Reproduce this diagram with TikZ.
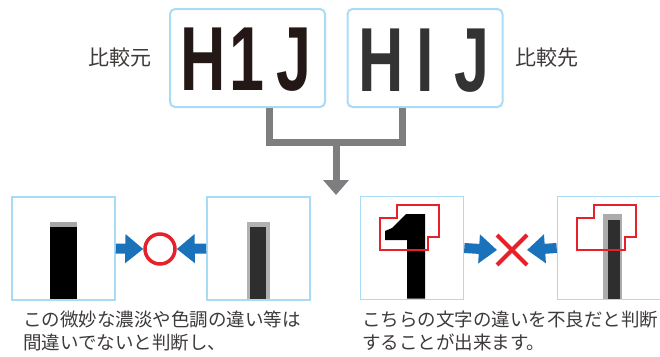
\documentclass[tikz,border=0pt]{standalone}
\usepackage{fontspec}
\newfontfamily\jpfont{Noto Sans CJK JP}
\newfontfamily\platefont{Liberation Sans}
\usetikzlibrary{positioning, arrows.meta}

\definecolor{framecol}{HTML}{A9DCF4}
\definecolor{linkgray}{HTML}{7E7E81}
\definecolor{feedblue}{HTML}{1A72BA}
\definecolor{markred}{HTML}{E6212A}
\definecolor{textgray}{HTML}{3E3A39}
\definecolor{inkdark}{HTML}{231815}
\definecolor{inksoft}{HTML}{333333}

\newcommand{\plate}[1]{\scalebox{0.69}[1]{#1}}

\begin{document}
\begin{tikzpicture}[
    x=1pt, y=-1pt,
    topbox/.style={draw=framecol, line width=2pt, rounded corners=5pt, minimum width=155pt, minimum height=98pt},
    zoombox/.style={draw=framecol, line width=1.6pt, minimum width=103pt, minimum height=103pt},
    glyph/.style={inner sep=0pt, anchor=base, font=\platefont\bfseries\fontsize{91}{91}\selectfont},
    sidelabel/.style={inner sep=0pt, text=textgray, font=\jpfont\fontsize{21}{25}\selectfont},
    caption/.style={inner sep=0pt, anchor=north west, align=left, text=textgray, font=\jpfont\fontsize{18.5}{23}\selectfont},
    link/.style={draw=linkgray, line width=7pt},
    feed/.style={draw=feedblue, line width=10pt, -{Triangle[width=28pt, length=18pt]}},
    zone/.style={draw=markred, line width=1.6pt}
]
\useasboundingbox (0,0) rectangle (660,356);

% compared plates
\node[topbox] (orig) at (247.5,58) {};
\node[topbox] (dest) at (425,58) {};
\node[sidelabel, left=17pt of orig] (origlabel) {比較元};
\node[sidelabel, right=12pt of dest] (destlabel) {比較先};

\foreach \ch/\x [count=\i] in {H/203,1/247,J/294}
    \node[glyph, text=inkdark] (a\i) at (\x,90) {\plate{\ch}};
\foreach \ch/\x [count=\i] in {H/381,I/425,J/472}
    \node[glyph, text=inksoft] (b\i) at (\x,91) {\plate{\ch}};

% merge and arrow down
\coordinate (join) at (336,142);
\coordinate (fork) at (336,195);
\draw[link] ([xshift=22pt]orig.south) |- (join) -| ([xshift=-23pt]dest.south);
\draw[link, -{Triangle[width=25pt, length=15pt]}] (join) -- (fork);

% enlarged views
\node[zoombox] (ok1) at (63.5,248.5) {};
\node[zoombox] (ok2) at (258.5,248.5) {};
\node[zoombox] (ng1) at (412,248) {};
\node[zoombox] (ng2) at (609,248) {};

\fill[gray!70] (50,222) rectangle (77,227);
\fill[black] (50,227) rectangle (77,298.5);
\fill[gray!60] (247,222) rectangle (270,298.5);
\fill[black!82] (250,227) rectangle (266,298.5);

\fill[black] (425,214) -- (425,298.5) -- (407,298.5) -- (407,240) -- (385,240)
    -- (385,231) -- (392,228) -- (406,214) -- cycle;
\draw[zone] (380,218) -- (380,250) -- (428,250) -- (428,237) -- (439,237)
    -- (439,205) -- (397,205) -- (397,218) -- cycle;

\fill[gray!65] (603,214) rectangle (622,298.5);
\fill[black!82] (608,220) rectangle (620,298.5);
\draw[zone] (577,218) -- (577,250) -- (625,250) -- (625,237) -- (636,237)
    -- (636,205) -- (594,205) -- (594,218) -- cycle;

% judgement marks
\node[circle, draw=markred, line width=3.5pt, minimum size=30pt, inner sep=0pt] (okmark) at (160,249) {};
\node[minimum size=30pt, inner sep=0pt, outer sep=0pt] (ngmark) at (512,250) {};
\draw[markred, line width=4pt] (ngmark.north west) -- (ngmark.south east)
    (ngmark.north east) -- (ngmark.south west);

\draw[feed] (ok1.east) -- (okmark.west);
\draw[feed] (ok2.west) -- (okmark.east);
\draw[feed] (ng1.east) -- (ngmark.west);
\draw[feed] (ng2.west) -- (ngmark.east);

% captions
\node[caption] (okcap) at (23,311) {この微妙な濃淡や色調の違い等は\\間違いでないと判断し、};
\node[caption] (ngcap) at (362,311) {こちらの文字の違いを不良だと判断\\することが出来ます。};
\end{tikzpicture}
\end{document}
